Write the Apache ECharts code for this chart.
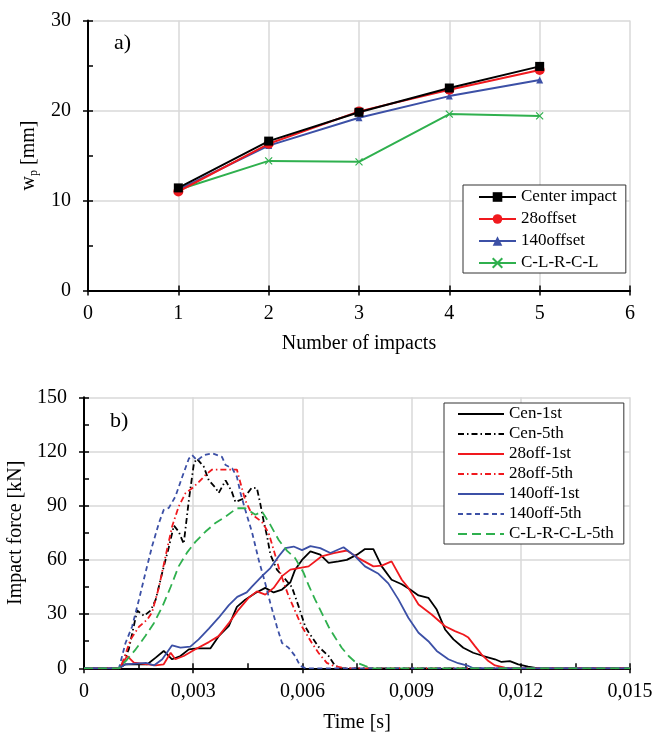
<!DOCTYPE html>
<html>
<head>
<meta charset="utf-8">
<script src="https://cdn.jsdelivr.net/npm/echarts@6/dist/echarts.min.js"></script>
<style>
html,body{margin:0;padding:0;background:#fff;}
#chart{width:653px;height:732px;}
</style>
</head>
<body>
<div id="chart"></div>
<script>
// ---------- Panel a) data ----------
const impacts = [1, 2, 3, 4, 5];
const centerImpact = [11.4, 16.6, 19.8, 22.5, 24.9];
const offset28 = [11.0, 16.3, 19.9, 22.3, 24.5];
const offset140 = [11.2, 16.1, 19.2, 21.6, 23.4];
const clrcl = [11.2, 14.4, 14.3, 19.6, 19.4];
const topXTickLabels = ['0', '1', '2', '3', '4', '5', '6'];
const topYTickLabels = ['0', '10', '20', '30'];

// ---------- Panel b) data: [time s, force kN] ----------
const cen1st = [[0,0],[0.00096,0],[0.00114,2.2],[0.00174,2.2],[0.00197,5.9],[0.00219,9.6],[0.00242,5],[0.00265,6.8],[0.00288,10.5],[0.00311,11],[0.00347,11],[0.0037,17.8],[0.00398,23.5],[0.0042,34],[0.00443,38],[0.00471,41.7],[0.00498,44.5],[0.00521,42],[0.00544,43.6],[0.00567,47.6],[0.0058,54.6],[0.00599,60],[0.00622,64.7],[0.00649,62.9],[0.00672,58.3],[0.00699,59.2],[0.00722,60],[0.0075,62.9],[0.00772,66],[0.00795,66],[0.00818,56.4],[0.00845,49],[0.00873,46.5],[0.00896,43.6],[0.00919,40.3],[0.00946,39],[0.00969,32.5],[0.00992,21.5],[0.01015,16],[0.01042,11.4],[0.01069,8.6],[0.01097,6.8],[0.01129,5],[0.01147,3.5],[0.0117,4],[0.01193,2.2],[0.0122,0.9],[0.01248,0],[0.015,0]];
const cen5th = [[0,0],[0.001,0],[0.00123,10.5],[0.00146,32],[0.00165,29],[0.00183,32],[0.00197,38],[0.00215,53],[0.00233,67],[0.00247,79],[0.0026,75.7],[0.00274,69],[0.00288,93],[0.00302,113.5],[0.0031,116],[0.00329,111.6],[0.00343,104],[0.00361,100],[0.0037,97],[0.00389,104],[0.00406,97.8],[0.00416,92],[0.00439,94],[0.00461,100],[0.00475,99.7],[0.00484,91.4],[0.00494,81],[0.00503,73],[0.00512,63],[0.0053,54.6],[0.0055,50],[0.00571,45],[0.0059,34],[0.00608,23],[0.00617,20],[0.00644,12],[0.00672,6.8],[0.0069,1.3],[0.0071,0],[0.015,0]];
const off28_1st = [[0,0],[0.00096,0],[0.00119,6.8],[0.00137,3.1],[0.00197,1.6],[0.00219,2.2],[0.00238,8.6],[0.00251,5],[0.00274,6.8],[0.00306,10.5],[0.00343,14.5],[0.0037,17.8],[0.00398,25],[0.00425,32.5],[0.00452,39],[0.00475,42.6],[0.00498,40.8],[0.00521,44.5],[0.00544,51],[0.00567,54.6],[0.0059,55.5],[0.00617,56.4],[0.00653,62],[0.00686,63.8],[0.00722,65.2],[0.00754,61],[0.00795,56.4],[0.00818,56.8],[0.00845,59.2],[0.00873,49],[0.00891,44.5],[0.00919,35.3],[0.00955,29.8],[0.00992,23.3],[0.01019,20.6],[0.01042,18.7],[0.01056,17],[0.01074,12.3],[0.01092,7.7],[0.01111,4],[0.01129,1.6],[0.01156,0.4],[0.0118,0],[0.015,0]];
const off28_5th = [[0,0],[0.001,0],[0.00128,16],[0.00151,23],[0.00174,27],[0.00187,31],[0.00206,45],[0.00224,62],[0.00242,78.5],[0.0026,89.5],[0.00279,97],[0.00297,99.6],[0.00315,103],[0.00334,107],[0.00352,110],[0.00379,110],[0.00398,110],[0.0042,110],[0.0043,102.5],[0.00443,93],[0.00462,85],[0.00489,81],[0.00507,75],[0.00521,65.6],[0.00539,53],[0.00562,40],[0.00599,23],[0.00626,14],[0.00644,8.6],[0.00667,3],[0.00686,1.3],[0.0072,0],[0.015,0]];
const off140_1st = [[0,0],[0.00096,0],[0.00114,2.2],[0.0017,3],[0.00192,1.6],[0.00215,5],[0.00242,12.7],[0.00265,11.4],[0.00292,12],[0.00315,16],[0.00343,22],[0.0037,28],[0.00398,35],[0.00421,39.5],[0.00447,42],[0.00462,45.4],[0.00489,51],[0.00512,55.5],[0.00535,62],[0.00553,66.5],[0.00576,67.4],[0.00599,65.4],[0.00622,67.6],[0.00649,66.5],[0.00677,63.8],[0.00713,67],[0.00745,62],[0.00772,56.4],[0.00809,52.3],[0.00836,47],[0.00864,38],[0.00891,28],[0.00919,19.7],[0.00946,15],[0.00969,9.6],[0.01001,5],[0.01028,2.8],[0.01056,1.3],[0.0107,0],[0.015,0]];
const off140_5th = [[0,0],[0.00096,0],[0.00114,14],[0.00132,23],[0.00151,38],[0.00169,53],[0.00187,67.5],[0.00206,80.5],[0.00219,87.7],[0.00233,88.8],[0.00251,95],[0.0027,106],[0.00288,116],[0.00297,118],[0.00311,115],[0.00329,118],[0.00352,119],[0.00379,117],[0.00389,112.5],[0.00407,110.7],[0.0042,106],[0.0043,97],[0.00443,87.7],[0.00462,75],[0.0048,60],[0.00498,47],[0.00512,36],[0.0053,23],[0.00544,14],[0.00562,11.4],[0.0058,6.8],[0.00594,1.3],[0.0061,0],[0.015,0]];
const clrcl5th = [[0,0],[0.00096,0],[0.00119,5],[0.00142,10.5],[0.00169,18],[0.00192,25],[0.00215,34],[0.00238,45],[0.0026,56.4],[0.00283,64],[0.00306,70],[0.00334,75.7],[0.00361,80.4],[0.00389,84],[0.0042,88.6],[0.00443,88.6],[0.00471,85],[0.00489,86.8],[0.00512,79.4],[0.00535,71],[0.00558,65],[0.0058,61],[0.00603,53],[0.00617,46],[0.00635,38],[0.00653,30.7],[0.00672,23],[0.0069,17],[0.00708,11.4],[0.00727,6.8],[0.00745,3.5],[0.00772,1.3],[0.0079,0],[0.015,0]];
const botXTickLabels = ['0', '0,003', '0,006', '0,009', '0,012', '0,015'];
const botYTickLabels = ['0', '30', '60', '90', '120', '150'];

const FONT = '"Liberation Serif", "Times New Roman", serif';
const BLACK = '#000000', RED = '#f0191e', BLUE = '#3c50a6', GREEN = '#2fb04e';
const GRIDC = '#d9d9d9';

function mainAxis(gridIndex, min, max, interval, labels, extra) {
  return Object.assign({
    type: 'value', gridIndex, min, max, interval,
    axisLine: { show: true, onZero: false, lineStyle: { color: '#000', width: 2 } },
    axisTick: { show: true, inside: false, length: 5, lineStyle: { color: '#000', width: 1.5 } },
    axisLabel: { show: true, color: '#000', fontFamily: FONT, fontSize: 20,
      formatter: v => labels[Math.round((v - min) / interval)] },
    splitLine: { show: true, lineStyle: { color: GRIDC, width: 1.5 } },
    minorTick: { show: false }, minorSplitLine: { show: false },
    nameTextStyle: { color: '#000', fontFamily: FONT, fontSize: 20 }
  }, extra);
}
function tickAxis(gridIndex, min, max, interval, position) {
  return {
    type: 'value', gridIndex, min, max, interval, position,
    axisLine: { show: false, onZero: false },
    axisTick: { show: true, inside: true, length: 5, lineStyle: { color: '#000', width: 1.5 } },
    axisLabel: { show: false }, splitLine: { show: false }
  };
}

const option = {
  animation: false,
  backgroundColor: '#fff',
  title: [
    { text: 'a)', left: 109, top: 27, textStyle: { fontFamily: FONT, fontSize: 22, fontWeight: 'normal', color: '#000' } },
    { text: 'b)', left: 105, top: 405, textStyle: { fontFamily: FONT, fontSize: 22, fontWeight: 'normal', color: '#000' } }
  ],
  grid: [
    { left: 88, top: 20.5, width: 542, height: 270, containLabel: false, outerBoundsMode: 'none' },
    { left: 84, top: 397.3, width: 546, height: 271, containLabel: false, outerBoundsMode: 'none' }
  ],
  legend: [
    {
      orient: 'vertical', left: 463, top: 185,
      data: ['Center impact', '28offset', '140offset', 'C-L-R-C-L'],
      itemWidth: 37, itemHeight: 12, itemGap: 4,
      padding: [3, 9, 1, 15],
      borderColor: '#333', borderWidth: 1, backgroundColor: '#fff',
      textStyle: { color: '#000', fontFamily: FONT, fontSize: 17, lineHeight: 18 }
    },
    {
      orient: 'vertical', left: 444, top: 403,
      data: ['Cen-1st', 'Cen-5th', '28off-1st', '28off-5th', '140off-1st', '140off-5th', 'C-L-R-C-L-5th'],
      itemWidth: 46, itemHeight: 12, itemGap: 2,
      padding: [2, 10, 1, 13],
      borderColor: '#333', borderWidth: 1, backgroundColor: '#fff',
      itemStyle: { opacity: 0 },
      textStyle: { color: '#000', fontFamily: FONT, fontSize: 17, lineHeight: 18 }
    }
  ],
  xAxis: [
    mainAxis(0, 0, 6, 1, topXTickLabels, {
      position: 'bottom', name: 'Number of impacts', nameLocation: 'middle', nameGap: 43,
      axisLabel: { show: true, color: '#000', fontFamily: FONT, fontSize: 20, margin: 13,
        formatter: v => topXTickLabels[Math.round(v)] }
    }),
    tickAxis(0, 0, 6, 1, 'bottom'),
    mainAxis(1, 0, 0.015, 0.003, botXTickLabels, {
      position: 'bottom', name: 'Time [s]', nameLocation: 'middle', nameGap: 44,
      axisLabel: { show: true, color: '#000', fontFamily: FONT, fontSize: 20, margin: 13,
        formatter: v => botXTickLabels[Math.round(v / 0.003)] }
    }),
    tickAxis(1, 0, 0.015, 0.0015, 'bottom')
  ],
  yAxis: [
    mainAxis(0, 0, 30, 10, topYTickLabels, {
      position: 'left', name: '{m|w}{s|p}{m| [mm]}', nameLocation: 'middle', nameGap: 33,
      axisLabel: { show: true, color: '#000', fontFamily: FONT, fontSize: 20, margin: 17,
        formatter: v => topYTickLabels[Math.round(v / 10)] },
      nameTextStyle: { color: '#000', fontFamily: FONT, fontSize: 20,
        rich: { m: { fontFamily: FONT, fontSize: 20, color: '#000' },
                s: { fontFamily: FONT, fontSize: 12, color: '#000', padding: [10, 0, 0, 0] } } }
    }),
    tickAxis(0, 0, 30, 5, 'left'),
    mainAxis(1, 0, 150, 30, botYTickLabels, {
      position: 'left', name: 'Impact force [kN]', nameLocation: 'middle', nameGap: 46,
      axisLabel: { show: true, color: '#000', fontFamily: FONT, fontSize: 20, margin: 17,
        formatter: v => botYTickLabels[Math.round(v / 30)] }
    }),
    tickAxis(1, 0, 150, 15, 'left')
  ],
  series: [
    { name: 'Center impact', type: 'line', xAxisIndex: 0, yAxisIndex: 0,
      data: impacts.map((x, i) => [x, centerImpact[i]]),
      symbol: 'rect', symbolSize: 9, lineStyle: { color: BLACK, width: 2 },
      itemStyle: { color: BLACK }, z: 5 },
    { name: '28offset', type: 'line', xAxisIndex: 0, yAxisIndex: 0,
      data: impacts.map((x, i) => [x, offset28[i]]),
      symbol: 'circle', symbolSize: 10, lineStyle: { color: RED, width: 2 },
      itemStyle: { color: RED }, z: 4 },
    { name: '140offset', type: 'line', xAxisIndex: 0, yAxisIndex: 0,
      data: impacts.map((x, i) => [x, offset140[i]]),
      symbol: 'triangle', symbolSize: 7, lineStyle: { color: BLUE, width: 2 },
      itemStyle: { color: BLUE }, z: 3 },
    { name: 'C-L-R-C-L', type: 'line', xAxisIndex: 0, yAxisIndex: 0,
      data: impacts.map((x, i) => [x, clrcl[i]]),
      symbol: 'path://M0,0L10,10M10,0L0,10', symbolSize: 7, lineStyle: { color: GREEN, width: 2 },
      itemStyle: { color: 'none', borderColor: GREEN, borderWidth: 1.2 }, z: 2 },

    { name: 'Cen-1st', type: 'line', xAxisIndex: 2, yAxisIndex: 2, data: cen1st, symbol: 'none',
      lineStyle: { color: BLACK, width: 1.8, type: 'solid' }, itemStyle: { color: BLACK } },
    { name: 'Cen-5th', type: 'line', xAxisIndex: 2, yAxisIndex: 2, data: cen5th, symbol: 'none',
      lineStyle: { color: BLACK, width: 1.8, type: [6, 3, 1.5, 3] }, itemStyle: { color: BLACK } },
    { name: '28off-1st', type: 'line', xAxisIndex: 2, yAxisIndex: 2, data: off28_1st, symbol: 'none',
      lineStyle: { color: RED, width: 1.8, type: 'solid' }, itemStyle: { color: RED } },
    { name: '28off-5th', type: 'line', xAxisIndex: 2, yAxisIndex: 2, data: off28_5th, symbol: 'none',
      lineStyle: { color: RED, width: 1.8, type: [6, 3, 1.5, 3] }, itemStyle: { color: RED } },
    { name: '140off-1st', type: 'line', xAxisIndex: 2, yAxisIndex: 2, data: off140_1st, symbol: 'none',
      lineStyle: { color: BLUE, width: 1.8, type: 'solid' }, itemStyle: { color: BLUE } },
    { name: '140off-5th', type: 'line', xAxisIndex: 2, yAxisIndex: 2, data: off140_5th, symbol: 'none',
      lineStyle: { color: BLUE, width: 1.8, type: [5, 3.5] }, itemStyle: { color: BLUE } },
    { name: 'C-L-R-C-L-5th', type: 'line', xAxisIndex: 2, yAxisIndex: 2, data: clrcl5th, symbol: 'none',
      lineStyle: { color: GREEN, width: 1.8, type: [9, 5] }, itemStyle: { color: GREEN } }
  ]
};

const chart = echarts.init(document.getElementById('chart'), null, { renderer: 'canvas' });
chart.setOption(option);
</script>
</body>
</html>
